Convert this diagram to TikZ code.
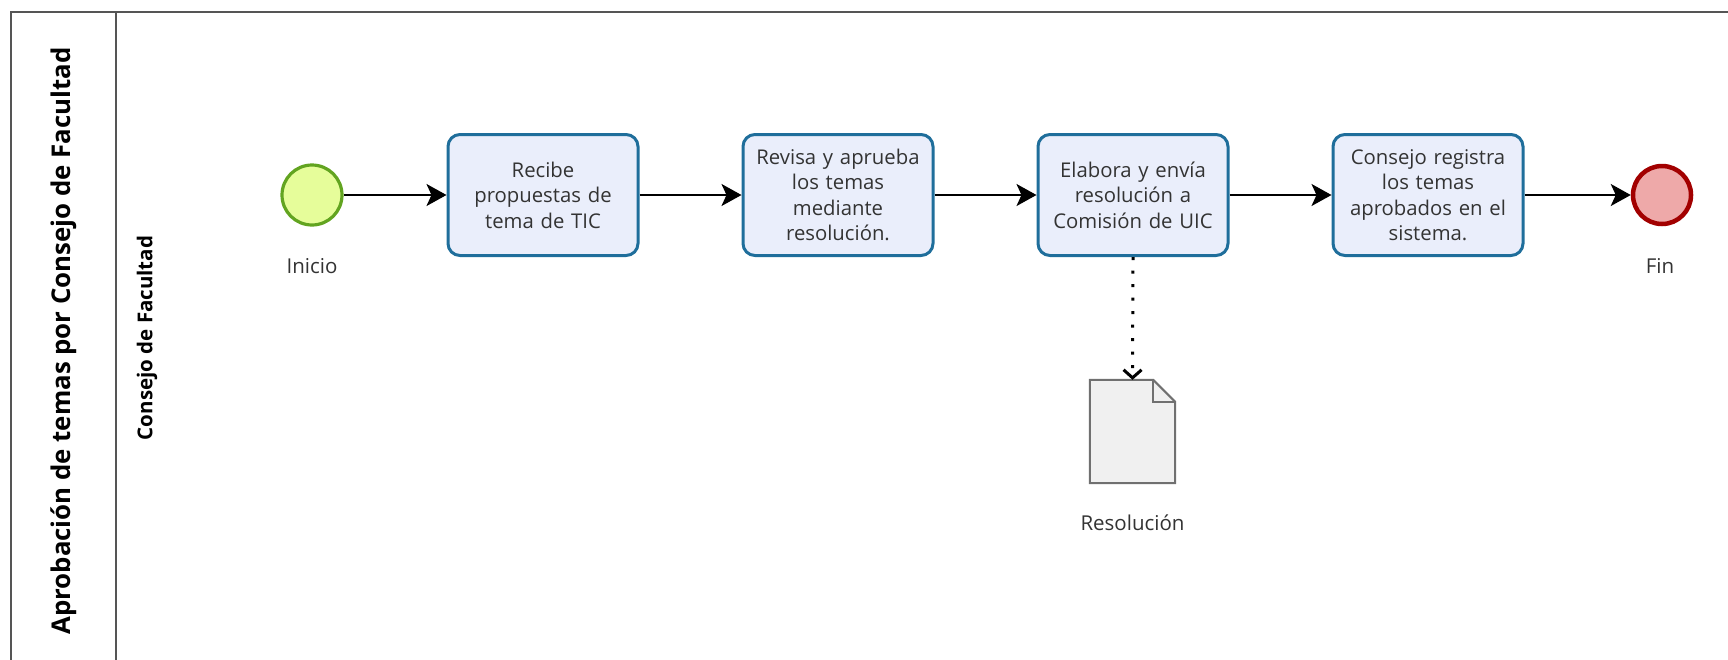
\documentclass[tikz,border=0pt]{standalone}
\usepackage{fontspec}
\setmainfont{Open Sans}
\usetikzlibrary{arrows.meta,calc}
\definecolor{taskfill}{HTML}{EAEEFB}
\definecolor{taskline}{HTML}{1F6E9B}
\definecolor{startfill}{HTML}{E6FD9A}
\definecolor{startline}{HTML}{62A420}
\definecolor{endfill}{HTML}{EEA9A9}
\definecolor{endline}{HTML}{A20000}
\definecolor{docfill}{HTML}{F0F0F0}
\definecolor{docline}{HTML}{707070}
\definecolor{poolline}{HTML}{555555}
\definecolor{txt}{HTML}{333333}
\begin{document}
\begin{tikzpicture}[x=1pt,y=-1pt,
  task/.style={draw=taskline, fill=taskfill, line width=3pt, rounded corners=12pt,
    minimum width=190pt, minimum height=121pt, align=center, text width=186pt,
    inner sep=0pt, text=txt, font=\fontsize{20.3}{25.5}\selectfont},
  startev/.style={circle, draw=startline, fill=startfill, line width=3.2pt, minimum size=60pt, inner sep=0pt},
  endev/.style={circle, draw=endline, fill=endfill, line width=4.5pt, minimum size=58pt, inner sep=0pt},
  lbl/.style={text=txt, font=\fontsize{20.5}{24}\selectfont, inner sep=0pt},
  flow/.style={draw=black, line width=2pt, -{Stealth[length=20pt,width=22pt,inset=5pt]}},
  assoc/.style={draw=black, line width=3pt, dash pattern=on 3pt off 10.5pt,
    -{Straight Barb[length=8pt,width=18pt,line width=3pt]}},
  pool/.style={draw=poolline, line width=2pt}
]
\useasboundingbox (0,0) rectangle (1728,659);

% pool and lane frame
\draw[pool] (1740,12) -- (11,12) -- (11,680);
\draw[pool] (116,12) -- (116,680);
\node[rotate=90, text=black, font=\bfseries\fontsize{25.8}{30}\selectfont, inner sep=0pt] (pooltitle) at (64,341) {Aprobación de temas por Consejo de Facultad};
\node[rotate=90, text=black, font=\bfseries\fontsize{20.5}{24}\selectfont, inner sep=0pt] (lanetitle) at (147,338) {Consejo de Facultad};

% events and tasks
\node[startev] (start) at (312,195) {};
\node[task] (t1) at (543,195) {Recibe\\propuestas de\\tema de TIC};
\node[task] (t2) at (838,195) {Revisa y aprueba\\los temas\\mediante\\resolución.};
\node[task] (t3) at (1133,195) {Elabora y envía\\resolución a\\Comisión de UIC};
\node[task] (t4) at (1428,195) {Consejo registra\\los temas\\aprobados en el\\sistema.};
\node[endev] (end) at (1662,195) {};

\node[lbl] (startlbl) at (312,266) {Inicio};
\node[lbl] (endlbl) at (1660,266) {Fin};

% data object
\node[minimum width=85pt, minimum height=103pt, inner sep=0pt] (doc) at (1132.5,431.5) {};
\draw[draw=docline, fill=docfill, line width=2pt]
  (doc.north west) -- ($(doc.north east)+(-22,0)$) -- ($(doc.north east)+(0,22)$)
  -- (doc.south east) -- (doc.south west) -- cycle;
\draw[draw=docline, line width=2pt]
  ($(doc.north east)+(-22,0)$) -- ($(doc.north east)+(-22,22)$) -- ($(doc.north east)+(0,22)$);
\node[lbl] (doclbl) at (1132.5,523) {Resolución};

% sequence flows
\draw[flow] (start) -- (t1);
\draw[flow] (t1) -- (t2);
\draw[flow] (t2) -- (t3);
\draw[flow] (t3) -- (t4);
\draw[flow] (t4) -- (end);

% data association
\draw[assoc] (t3.south) -- (doc.north);
\end{tikzpicture}
\end{document}
